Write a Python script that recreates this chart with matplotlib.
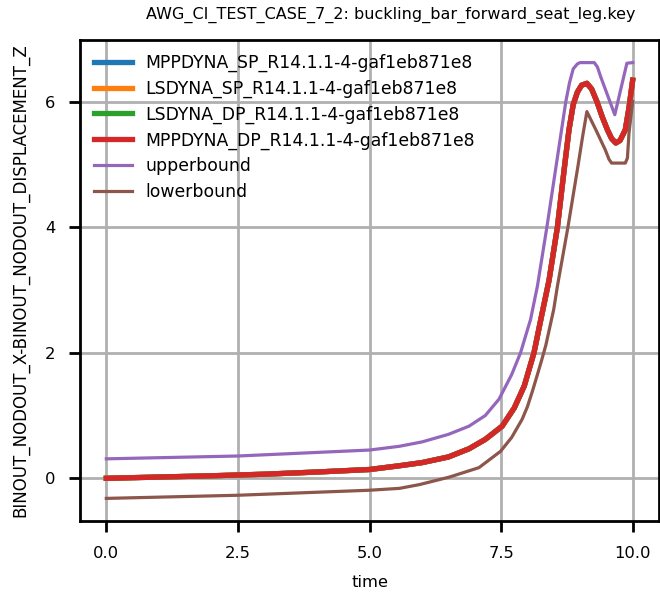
import matplotlib
matplotlib.use("Agg")
import matplotlib.pyplot as plt

title = "AWG_CI_TEST_CASE_7_2: buckling_bar_forward_seat_leg.key"
xlabel = "time"
ylabel = "BINOUT_NODOUT_X-BINOUT_NODOUT_DISPLACEMENT_Z"

series_names = [
    "MPPDYNA_SP_R14.1.1-4-gaf1eb871e8",
    "LSDYNA_SP_R14.1.1-4-gaf1eb871e8",
    "LSDYNA_DP_R14.1.1-4-gaf1eb871e8",
    "MPPDYNA_DP_R14.1.1-4-gaf1eb871e8",
]

time = [0.0, 1.0, 2.0, 3.0, 4.0, 5.0, 5.57, 6.0, 6.5, 6.89, 7.2, 7.52, 7.75,
        7.94, 8.125, 8.26, 8.41, 8.57, 8.71, 8.79, 8.87, 8.95, 9.03, 9.13,
        9.22, 9.32, 9.42, 9.52, 9.6, 9.68, 9.76, 9.86, 9.93, 10.0]
disp = [0.0, 0.02, 0.04, 0.065, 0.10, 0.14, 0.20, 0.25, 0.34, 0.47, 0.62, 0.83,
        1.12, 1.47, 2.0, 2.55, 3.15, 4.0, 5.0, 5.55, 5.95, 6.15, 6.26, 6.29,
        6.2, 6.0, 5.76, 5.55, 5.41, 5.34, 5.38, 5.55, 5.9, 6.34]

mppdyna_sp = disp
lsdyna_sp = disp
lsdyna_dp = disp
mppdyna_dp = disp

upper_time = [0.0, 2.5, 5.0, 5.57, 6.0, 6.5, 6.89, 7.2, 7.46, 7.7, 7.87, 8.06,
              8.19, 8.37, 8.55, 8.73, 8.8, 8.87, 8.95, 9.0, 9.27, 9.33, 9.39,
              9.66, 9.89, 10.0]
upper = [0.31, 0.355, 0.45, 0.51, 0.58, 0.70, 0.83, 1.0, 1.26, 1.65, 2.0, 2.53,
         3.06, 4.0, 5.0, 6.0, 6.3, 6.52, 6.6, 6.62, 6.62, 6.55, 6.40,
         5.79, 6.61, 6.62]

lower_time = [0.0, 2.5, 5.0, 5.57, 5.95, 6.52, 7.08, 7.49, 7.7, 7.9, 8.0, 8.1,
              8.2, 8.27, 8.35, 8.5, 8.57, 8.77, 8.96, 9.05, 9.13, 9.3, 9.48,
              9.55, 9.6, 9.86, 9.9, 9.93, 10.0]
lower = [-0.32, -0.27, -0.19, -0.16, -0.10, 0.02, 0.17, 0.43, 0.65, 0.94, 1.14, 1.40,
         1.68, 1.88, 2.12, 2.69, 3.06, 4.0, 4.97, 5.45, 5.84, 5.55, 5.23,
         5.08, 5.02, 5.02, 5.1, 5.5, 6.0]

colors = ["#1f77b4", "#ff7f0e", "#2ca02c", "#d62728"]

plt.rcParams["font.family"] = ["DejaVu Sans"]

fig = plt.figure(figsize=(6.6, 5.96), dpi=100)
ax = fig.add_axes([80 / 660, 1 - 521 / 596, (659 - 80) / 660, (521 - 40) / 596])

for name, vals, c in zip(series_names, [mppdyna_sp, lsdyna_sp, lsdyna_dp, mppdyna_dp], colors):
    ax.plot(time, vals, color=c, lw=3.8, label=name, solid_joinstyle="round")
ax.plot(upper_time, upper, color="#9467bd", lw=2.3, label="upperbound", solid_joinstyle="round")
ax.plot(lower_time, lower, color="#8c564b", lw=2.3, label="lowerbound", solid_joinstyle="round")

ax.set_xlim(-0.5, 10.5)
ax.set_ylim(-0.68, 6.98)
ax.grid(True, color="#b0b0b0", lw=2.0)
ax.set_axisbelow(True)
for s in ax.spines.values():
    s.set_linewidth(2.0)
ax.tick_params(width=2.0, length=8, pad=10, labelsize=11.8)
ax.set_xticks([0.0, 2.5, 5.0, 7.5, 10.0])
ax.set_yticks([0, 2, 4, 6])
ax.set_xlabel(xlabel, fontsize=11.8, labelpad=10)
ax.set_ylabel(ylabel, fontsize=12, labelpad=11)
ax.set_title(title, fontsize=11.5, pad=15, x=(391 - 80) / 579)
ax.legend(loc="upper left", frameon=False, fontsize=12.4, handlelength=2.2,
          labelspacing=0.44, borderaxespad=0.4)

fig.savefig("out.png", dpi=100)
